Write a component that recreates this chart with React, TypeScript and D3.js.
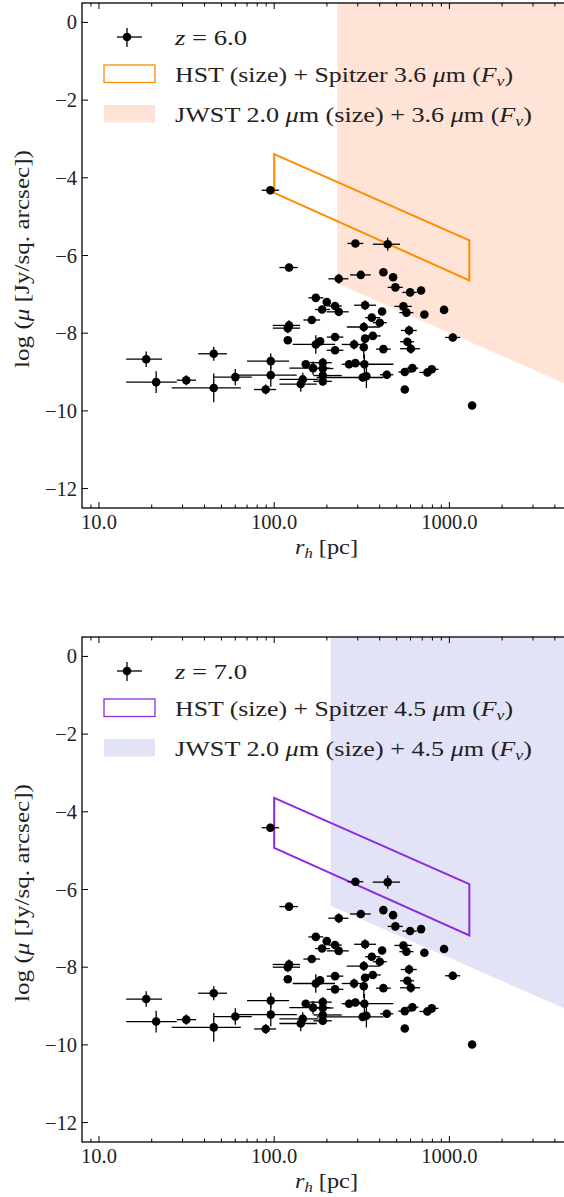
import React from 'react';
import * as d3 from 'd3';

// ---- data ----
// half-light radius [pc] and its error-bar ends
const rh = [290.8, 444.6, 121.6, 233.7, 312.1, 420.1, 477.2, 491.8, 596.8, 689.6,
  172.8, 199.6, 222.6, 187.7, 233.7, 330.3, 412.9, 546.4, 568.4, 720,
  932.6, 163.9, 121.6, 119.6, 119.6, 360.6, 400.6, 324.7, 365.6, 330.3,
  222.6, 172.8, 182.8, 285.8, 324.7, 222.6, 420.1, 588.8, 575.9, 602.3,
  1045.7, 45.2, 95.6, 95.6, 60.0, 45.2, 31.5, 21.2, 89.5, 145.6,
  141.8, 151.5, 166.7, 189.4, 189.4, 189.4, 189.4, 267.6, 290.8, 327.3,
  320.4, 336, 439.3, 556.5, 615, 556.5, 748.9, 793.4, 1348, 95.1, 18.6];
const rhLo = [261.8, 365.6, 107.1, 203.9, 271.2, 420.1, 477.2, 444.6, 539.4, 689.6,
  156.8, 199.6, 203.9, 171.2, 199.6, 285.8, 412.9, 485.4, 518.4, 720,
  932.6, 146.8, 98.2, 98.2, 119.6, 330.3, 365.6, 259.7, 322.9, 330.3,
  199.6, 127.7, 182.8, 243.1, 310, 199.6, 381.6, 528, 523, 523,
  945.2, 36.8, 70, 59.8, 45.4, 26.0, 27.8, 14.3, 76.8, 107.1,
  107.1, 151.5, 122.1, 160.3, 163.9, 167.4, 167.4, 243.1, 259.7, 283.1,
  175, 336, 402, 511.6, 571.4, 556.5, 674.4, 726.6, 1348, 84.9, 14.3];
const rhHi = [322.8, 523, 136.4, 265.2, 356, 420.1, 477.2, 542, 651.6, 689.6,
  190.9, 199.6, 243.1, 208.4, 266.6, 381.6, 412.9, 610.2, 623.1, 720,
  932.6, 182.8, 140.6, 140.6, 119.6, 402.1, 439.3, 402.1, 405.8, 330.3,
  248.3, 222.6, 182.8, 322.9, 340, 248.3, 463, 651.6, 628.9, 680.5,
  1151.3, 53.8, 121.6, 134.6, 74.5, 64.5, 35.8, 27.8, 102.5, 178.8,
  175.0, 151.5, 208.4, 213.3, 217.8, 243.1, 213.3, 296.1, 322.9, 479.0,
  420, 336, 479, 610, 665.3, 556.5, 810.4, 865.3, 1348, 106.7, 22.9];
// log surface brightness at z = 6 and z = 7, and its error
const muZ6 = [-5.69, -5.71, -6.31, -6.60, -6.50, -6.43, -6.56, -6.82, -6.95, -6.90,
  -7.09, -7.20, -7.30, -7.39, -7.45, -7.28, -7.44, -7.31, -7.47, -7.52,
  -7.40, -7.66, -7.80, -7.87, -8.18, -7.60, -7.73, -7.84, -8.07, -8.14,
  -8.10, -8.29, -8.21, -8.29, -8.36, -8.44, -8.41, -7.93, -8.22, -8.40,
  -8.11, -8.53, -8.72, -9.08, -9.13, -9.41, -9.21, -9.26, -9.45, -9.19,
  -9.31, -8.80, -8.90, -8.76, -8.91, -9.09, -9.24, -8.80, -8.77, -8.80,
  -9.14, -9.11, -9.07, -9.00, -8.90, -9.45, -9.01, -8.93, -9.86, -4.32, -8.67];
const muZ7 = [-5.80, -5.81, -6.44, -6.74, -6.63, -6.53, -6.66, -6.95, -7.07, -7.02,
  -7.22, -7.33, -7.43, -7.52, -7.58, -7.41, -7.57, -7.44, -7.60, -7.63,
  -7.53, -7.79, -7.93, -8.00, -8.31, -7.73, -7.86, -7.97, -8.20, -8.27,
  -8.23, -8.42, -8.34, -8.42, -8.49, -8.57, -8.54, -8.06, -8.35, -8.53,
  -8.22, -8.67, -8.86, -9.22, -9.27, -9.55, -9.35, -9.40, -9.59, -9.33,
  -9.45, -8.94, -9.04, -8.90, -9.05, -9.23, -9.38, -8.94, -8.91, -8.94,
  -9.28, -9.25, -9.20, -9.13, -9.03, -9.58, -9.14, -9.06, -9.99, -4.41, -8.82];
const muErr = [0.09, 0.17, 0.10, 0.13, 0.10, 0, 0, 0.10, 0.10, 0,
  0.09, 0, 0.09, 0.09, 0.10, 0.13, 0, 0.10, 0.09, 0,
  0, 0.10, 0.13, 0.13, 0, 0.09, 0.09, 0.13, 0.09, 0,
  0.10, 0.24, 0, 0.13, 0.30, 0.09, 0.09, 0.13, 0.10, 0.13,
  0.10, 0.18, 0.20, 0.30, 0.21, 0.37, 0.13, 0.28, 0.13, 0.17,
  0.20, 0, 0.17, 0.13, 0.10, 0.10, 0.10, 0.10, 0.10, 0.25,
  0.10, 0.30, 0.10, 0.10, 0.10, 0, 0.10, 0.10, 0, 0.10, 0.20];

// HST (size) + Spitzer region corners [r_h, log mu]
const hstZ6: [number, number][] = [[100, -3.39], [1300, -5.61], [1300, -6.64], [100, -4.39]];
const hstZ7: [number, number][] = [[100, -3.64], [1300, -5.86], [1300, -7.18], [100, -4.93]];
// JWST region corners [r_h, log mu]
const jwstZ6: [number, number][] = [[229, 0.5], [4570, 0.5], [4570, -9.30], [229, -6.72]];
const jwstZ7: [number, number][] = [[210, 0.5], [4570, 0.5], [4570, -9.07], [210, -6.42]];

const xMajor = [10, 100, 1000];
const xMinor = [9, 20, 30, 40, 50, 60, 70, 80, 90, 200, 300, 400, 500, 600, 700, 800, 900, 2000, 3000, 4000];
const yMajor = [0, -2, -4, -6, -8, -10, -12];

const W = 564, H = 1197;
const X0 = 82, X1 = 565;
const PH = 505;
const FONT = "Liberation Serif, Times New Roman, serif";
const FS = 20.5;

type PanelProps = {
  top: number; mu: number[]; z: string; band: string;
  hstColor: string; jwstFill: string;
  hst: [number, number][]; jwst: [number, number][]; id: string;
};

function Panel({ top, mu, z, band, hstColor, jwstFill, hst, jwst, id }: PanelProps) {
  const x = d3.scaleLog().domain([8, 4570]).range([X0, X1]);
  const y = d3.scaleLinear().domain([-12.5, 0.5]).range([top + PH, top]);
  const line = d3.line<[number, number]>().x(d => x(d[0])).y(d => y(d[1]));
  const fmtX = d3.format('.1f');
  const bottom = top + PH;
  const legX = 104, legW = 51;
  return (
    <g>
      <defs>
        <clipPath id={id}>
          <rect x={X0} y={top} width={X1 - X0} height={PH} />
        </clipPath>
      </defs>
      <g clipPath={`url(#${id})`}>
        <path d={line(jwst) + 'Z'} fill={jwstFill} stroke="none" />
        <path d={line(hst) + 'Z'} fill="none" stroke={hstColor} strokeWidth={2} strokeLinejoin="miter" />
        {rh.map((r, i) => (
          <g key={i} stroke="#000" strokeWidth={1.3}>
            {rhHi[i] > rhLo[i] && <line x1={x(rhLo[i])} x2={x(rhHi[i])} y1={y(mu[i])} y2={y(mu[i])} />}
            {muErr[i] > 0 && <line x1={x(r)} x2={x(r)} y1={y(mu[i] - muErr[i])} y2={y(mu[i] + muErr[i])} />}
          </g>
        ))}
        {rh.map((r, i) => (
          <circle key={i} cx={x(r)} cy={y(mu[i])} r={4.3} fill="#000" />
        ))}
      </g>
      {/* spines */}
      <rect x={X0} y={top} width={X1 - X0} height={PH} fill="none" stroke="#000" strokeWidth={1.3} />
      {/* ticks */}
      <g stroke="#000" strokeWidth={1}>
        {xMajor.map(v => (
          <g key={'M' + v}>
            <line x1={x(v)} x2={x(v)} y1={bottom} y2={bottom - 6} />
            <line x1={x(v)} x2={x(v)} y1={top} y2={top + 6} />
          </g>
        ))}
        {xMinor.map(v => (
          <g key={'m' + v}>
            <line x1={x(v)} x2={x(v)} y1={bottom} y2={bottom - 3.5} />
            <line x1={x(v)} x2={x(v)} y1={top} y2={top + 3.5} />
          </g>
        ))}
        {yMajor.map(v => (
          <line key={'y' + v} x1={X0} x2={X0 + 6} y1={y(v)} y2={y(v)} />
        ))}
      </g>
      <g fontFamily={FONT} fontSize={FS} fill="#222">
        {xMajor.map(v => (
          <text key={'xl' + v} x={x(v)} y={bottom + 21} textAnchor="middle">{fmtX(v)}</text>
        ))}
        {yMajor.map(v => (
          <text key={'yl' + v} x={X0 - 5} y={y(v) + 7} textAnchor="end">{v < 0 ? '\u2212' + Math.abs(v) : String(v)}</text>
        ))}
        <text x={295} y={bottom + 46} textLength={63} lengthAdjust="spacingAndGlyphs">
          <tspan fontStyle="italic">r</tspan>
          <tspan fontStyle="italic" fontSize={14} dy={4}>h</tspan>
          <tspan dy={-4}> [pc]</tspan>
        </text>
        <text transform={`translate(29, ${top + 365}) rotate(-90)`} textLength={218} lengthAdjust="spacingAndGlyphs">
          log (<tspan fontStyle="italic">μ</tspan> [Jy/sq. arcsec])
        </text>
      </g>
      {/* legend */}
      <g>
        <line x1={117} x2={142} y1={top + 34} y2={top + 34} stroke="#000" strokeWidth={1.3} />
        <line x1={127} x2={127} y1={top + 25} y2={top + 44} stroke="#000" strokeWidth={1.3} />
        <circle cx={127} cy={top + 34} r={4.3} fill="#000" />
        <rect x={legX} y={top + 62} width={legW} height={17.5} fill="none" stroke={hstColor} strokeWidth={1.3} />
        <rect x={legX} y={top + 102} width={legW} height={17.5} fill={jwstFill} />
      </g>
      <g fontFamily={FONT} fontSize={FS} fill="#222">
        <text x={175} y={top + 42} textLength={72} lengthAdjust="spacingAndGlyphs">
          <tspan fontStyle="italic">z</tspan> = {z}
        </text>
        <text x={175} y={top + 79} textLength={338} lengthAdjust="spacingAndGlyphs">
          HST (size) + Spitzer {band} <tspan fontStyle="italic">μ</tspan>m (<tspan fontStyle="italic">F</tspan><tspan fontStyle="italic" fontSize={14} dy={4}>ν</tspan><tspan dy={-4}>)</tspan>
        </text>
        <text x={175} y={top + 119} textLength={357} lengthAdjust="spacingAndGlyphs">
          JWST 2.0 <tspan fontStyle="italic">μ</tspan>m (size) + {band} <tspan fontStyle="italic">μ</tspan>m (<tspan fontStyle="italic">F</tspan><tspan fontStyle="italic" fontSize={14} dy={4}>ν</tspan><tspan dy={-4}>)</tspan>
        </text>
      </g>
    </g>
  );
}

export default function App() {
  return (
    <svg width={W} height={H} viewBox={`0 0 ${W} ${H}`}
      style={{ position: 'absolute', left: 0, top: 0, background: '#fff' }}>
      <rect x={0} y={0} width={W} height={H} fill="#fff" />
      <Panel id="c6" top={3} mu={muZ6} z="6.0" band="3.6" hstColor="#ff8c00" jwstFill="#ffe3d6" hst={hstZ6} jwst={jwstZ6} />
      <Panel id="c7" top={637} mu={muZ7} z="7.0" band="4.5" hstColor="#8a2be2" jwstFill="#e3e3f8" hst={hstZ7} jwst={jwstZ7} />
    </svg>
  );
}
